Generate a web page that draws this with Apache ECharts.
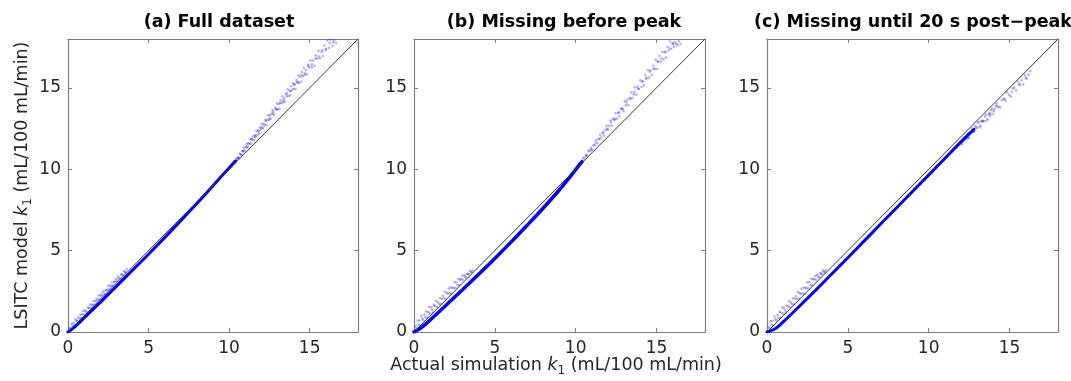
<!DOCTYPE html>
<html>
<head>
<meta charset="utf-8">
<script src="https://cdn.jsdelivr.net/npm/echarts@6/dist/echarts.min.js"></script>
<style>
html,body{margin:0;padding:0;background:#fff;}
#chart{width:1071px;height:381px;}
</style>
</head>
<body>
<div id="chart"></div>
<script>
// ---------- data ----------
const panelTitles = ['(a) Full dataset', '(b) Missing before peak', '(c) Missing until 20 s post\u2212peak'];
const xAxisName = 'Actual simulation {i|k}{s|1} (mL/100 mL/min)';
const yAxisName = 'LSITC model {i|k}{s|1} (mL/100 mL/min)';
const axisMax = 18;
const tickStep = 5;
const identityLine = [[0, 0], [18, 18]];

// dense core of each point cloud
const coreA = [[0,0],[0.5,0.38],[1,0.86],[2,1.82],[3,2.8],[4,3.79],[5,4.78],[6,5.8],[7,6.84],[8,7.9],[9,8.98],[10,10.08],[10.4,10.5]];
const coreB = [[0,0],[0.5,0.3],[1,0.74],[2,1.66],[3,2.6],[4,3.55],[5,4.52],[6,5.52],[7,6.56],[8,7.62],[9,8.74],[9.5,9.34],[10,9.98],[10.4,10.46]];
const coreC = [[0,0],[0.5,0.2],[1,0.62],[2,1.58],[3,2.56],[4,3.56],[5,4.56],[6,5.58],[7,6.6],[8,7.62],[9,8.63],[10,9.64],[11,10.66],[12,11.68],[12.8,12.45]];

// sparse points
const lowA = [
  [0.10,0.25],[0.16,0.21],[0.22,0.50],[0.28,0.38],[0.34,0.56],[0.40,0.42],[0.46,0.78],[0.52,0.70],[0.58,0.66],[0.64,0.89],
  [0.70,0.82],[0.76,1.06],[0.82,0.86],[0.88,1.08],[0.94,1.29],[1.00,1.09],[1.06,1.33],[1.12,1.26],[1.18,1.19],[1.24,1.48],
  [1.30,1.47],[1.36,1.69],[1.42,1.49],[1.48,1.69],[1.54,1.65],[1.60,1.89],[1.66,1.69],[1.72,1.91],[1.78,2.04],[1.84,1.97],
  [1.90,2.24],[1.96,2.02],[2.02,2.25],[2.08,2.24],[2.14,2.45],[2.20,2.30],[2.26,2.54],[2.32,2.34],[2.38,2.58],[2.44,2.59],
  [2.50,2.83],[2.56,2.64],[2.62,2.87],[2.68,2.80],[2.74,3.04],[2.80,2.85],[2.86,3.08],[2.92,3.10],[2.98,3.25],[3.04,3.14],
  [3.10,3.42],[3.16,3.30],[3.22,3.29],[3.28,3.52],[3.34,3.53],[3.40,3.51],[3.46,3.75],[3.52,3.68],[3.58,3.66],[3.64,3.85]
];
const highA = [
  [10.10,10.15],[10.16,10.14],[10.22,10.36],[10.27,10.31],[10.33,10.47],[10.38,10.40],[10.44,10.66],[10.49,10.60],[10.55,10.74],
  [10.61,10.68],[10.66,10.95],[10.72,10.91],[10.77,10.88],[10.83,11.12],[10.88,11.08],[10.94,11.32],[10.99,11.14],[11.05,11.35],
  [11.10,11.55],[11.15,11.33],[11.21,11.60],[11.26,11.55],[11.32,11.85],[11.37,11.59],[11.43,11.83],[11.48,12.00],[11.54,11.78],
  [11.59,12.10],[11.65,12.03],[11.70,12.35],[11.76,12.12],[11.81,12.33],[11.87,12.18],[11.92,12.58],[11.98,12.49],[12.03,12.79],
  [12.09,12.50],[12.14,12.78],[12.20,12.70],[12.25,13.04],[12.31,12.71],[12.36,13.02],[12.42,13.31],[12.47,13.02],[12.53,13.31],
  [12.58,13.09],[12.64,13.40],[12.69,13.64],[12.75,13.41],[12.80,13.32],[12.86,13.78],[12.91,13.67],[12.97,14.03],[13.02,13.67],
  [13.08,14.01],[13.13,13.71],[13.19,14.24],[13.24,14.05],[13.30,14.47],[13.35,14.11],[13.41,14.36],[13.46,14.14],[13.52,14.63],
  [13.57,14.50],[13.63,14.91],[13.68,14.48],[13.74,14.84],[13.79,14.54],[13.85,15.10],[13.90,14.87],[13.96,15.30],[14.01,14.94],
  [14.07,15.22],[14.12,14.93],[14.18,15.48],[14.23,15.35],[14.29,15.76],[14.34,15.30],[14.40,15.67],[14.46,15.37],[14.52,15.98],
  [14.58,15.72],[14.64,16.22],[14.70,15.79],[14.76,16.09],[14.83,15.83],[14.90,16.42],[14.97,16.25],[15.05,16.68],[15.13,16.27],
  [15.21,16.68],[15.30,16.35],[15.38,16.99],[15.47,16.79],[15.55,17.28],[15.64,16.81],[15.73,17.21],[15.82,16.95],[15.91,17.60],
  [16.00,17.33],[16.10,17.89],[16.20,17.45],[16.30,17.95],[16.41,17.58],[16.52,17.91],[16.64,17.75],
  [10.30,10.42],[10.58,10.70],[10.86,11.13],[11.13,11.40],[11.40,11.84],[11.62,12.00],[11.84,12.40],[12.06,12.58],[12.28,12.96],
  [12.50,13.12],[12.72,13.52],[12.94,13.69],[13.16,14.08],[13.38,14.24],[13.60,14.65],[13.82,14.79],[14.04,15.20],[14.26,15.35],
  [14.48,15.78],[14.70,15.90],[14.92,16.34],[15.14,16.44],[15.36,16.82],[15.58,16.93],[15.80,17.30],[16.02,17.40],[16.24,17.75],
  [16.46,17.80]
];
const lowB = [
  [0.10,0.35],[0.16,0.24],[0.22,0.70],[0.28,0.45],[0.34,0.71],[0.40,0.43],[0.46,1.00],[0.52,0.83],[0.58,0.72],[0.64,1.07],
  [0.70,0.90],[0.76,1.27],[0.82,0.89],[0.88,1.22],[0.94,1.54],[1.00,1.15],[1.06,1.52],[1.12,1.36],[1.18,1.20],[1.24,1.65],
  [1.30,1.59],[1.36,1.92],[1.42,1.54],[1.48,1.84],[1.54,1.73],[1.60,2.09],[1.66,1.71],[1.72,2.04],[1.78,2.22],[1.84,2.06],
  [1.90,2.48],[1.96,2.06],[2.02,2.41],[2.08,2.35],[2.14,2.67],[2.20,2.37],[2.26,2.74],[2.32,2.35],[2.38,2.72],[2.44,2.70],
  [2.50,3.06],[2.56,2.70],[2.62,3.05],[2.68,2.88],[2.74,3.25],[2.80,2.89],[2.86,3.23],[2.92,3.23],[2.98,3.44],[3.04,3.21],
  [3.10,3.50],[3.16,3.40],[3.22,3.34],[3.28,3.58],[3.34,3.58],[3.40,3.54],[3.46,3.76],[3.52,3.68],[3.58,3.66],[3.64,3.79]
];
const highB = [
  [10.15,10.15],[10.23,10.37],[10.31,10.31],[10.39,10.53],[10.47,10.71],[10.55,10.65],[10.63,10.82],[10.71,10.81],[10.79,11.14],
  [10.87,11.10],[10.95,11.31],[11.03,11.20],[11.11,11.48],[11.19,11.47],[11.27,11.79],[11.35,11.58],[11.43,11.87],[11.51,12.12],
  [11.59,11.95],[11.67,12.24],[11.75,12.07],[11.83,12.40],[11.91,12.66],[11.99,12.43],[12.07,12.66],[12.15,12.99],[12.23,12.67],
  [12.31,13.09],[12.39,13.02],[12.47,13.43],[12.55,13.11],[12.63,13.46],[12.71,13.25],[12.79,13.74],[12.87,13.71],[12.95,13.58],
  [13.03,14.18],[13.11,13.92],[13.19,14.28],[13.27,13.94],[13.35,14.37],[13.43,14.71],[13.51,14.38],[13.59,14.60],[13.67,15.03],
  [13.75,14.58],[13.83,15.06],[13.91,14.93],[13.99,15.46],[14.07,15.05],[14.15,15.41],[14.23,15.15],[14.31,15.79],[14.39,15.61],
  [14.47,16.10],[14.55,15.63],[14.63,16.07],[14.71,15.79],[14.79,16.36],[14.87,16.16],[14.95,16.73],[15.03,16.17],[15.11,16.62],
  [15.19,16.96],[15.27,16.61],[15.35,17.20],[15.43,16.74],[15.51,17.19],[15.59,16.86],[15.67,17.52],[15.75,17.28],[15.83,17.85],
  [15.91,17.40],[15.99,17.73],[16.07,17.53],[16.15,17.78],[16.23,17.70],[16.31,17.62],[16.39,17.86],[16.48,17.70],
  [10.35,10.43],[10.65,10.88],[10.95,11.20],[11.23,11.64],[11.47,11.86],[11.71,12.26],[11.95,12.48],[12.19,12.88],[12.43,13.09],
  [12.67,13.50],[12.91,13.71],[13.15,14.12],[13.39,14.32],[13.63,14.75],[13.87,14.94],[14.11,15.37],[14.35,15.56],[14.59,15.99],
  [14.83,16.18],[15.07,16.60],[15.31,16.80],[15.55,17.22],[15.79,17.42],[16.03,17.70]
];
const lowC = [
  [0.10,0.32],[0.16,0.22],[0.22,0.66],[0.28,0.44],[0.34,0.68],[0.40,0.41],[0.46,0.95],[0.52,0.80],[0.58,0.70],[0.64,1.04],
  [0.70,0.88],[0.76,1.24],[0.82,0.87],[0.88,1.20],[0.94,1.50],[1.00,1.13],[1.06,1.49],[1.12,1.34],[1.18,1.19],[1.24,1.62],
  [1.30,1.57],[1.36,1.90],[1.42,1.52],[1.48,1.82],[1.54,1.71],[1.60,2.07],[1.66,1.70],[1.72,2.02],[1.78,2.20],[1.84,2.04],
  [1.90,2.46],[1.96,2.05],[2.02,2.40],[2.08,2.33],[2.14,2.66],[2.20,2.36],[2.26,2.73],[2.32,2.34],[2.38,2.71],[2.44,2.69],
  [2.50,3.05],[2.56,2.69],[2.62,3.06],[2.68,2.87],[2.74,3.27],[2.80,2.88],[2.86,3.25],[2.92,3.24],[2.98,3.46],[3.04,3.22],
  [3.10,3.52],[3.16,3.41],[3.22,3.35],[3.28,3.60],[3.34,3.59],[3.40,3.55],[3.46,3.78],[3.52,3.70],[3.58,3.67],[3.64,3.80]
];
const highC = [
  [12.00,11.67],[12.05,11.52],[12.11,11.65],[12.16,11.88],[12.22,11.96],[12.27,11.83],[12.33,11.93],[12.38,12.16],[12.44,11.92],
  [12.49,11.93],[12.55,12.26],[12.60,12.25],[12.66,12.29],[12.71,12.52],[12.77,12.28],[12.82,12.31],[12.88,12.65],[12.93,12.54],
  [12.99,12.56],[13.04,12.87],[13.10,12.90],[13.15,12.57],[13.21,12.66],[13.26,12.97],[13.32,12.98],[13.37,12.95],[13.43,12.96],
  [13.48,13.24],[13.54,13.36],[13.59,12.99],[13.65,13.08],[13.70,13.34],[13.76,13.45],[13.81,13.28],[13.87,13.62],[13.92,13.72],
  [13.98,13.39],[14.03,13.57],[14.09,13.71],[14.14,13.88],[14.20,14.04],[14.31,13.81],[14.42,13.81],[14.53,14.25],[14.64,14.32],
  [14.75,14.21],[14.86,14.72],[14.97,14.56],[15.08,14.46],[15.19,14.97],[15.30,15.00],[15.41,14.83],[15.52,15.39],[15.63,15.18],
  [15.74,15.47],[15.85,15.22],[15.96,15.77],[16.07,15.56],[16.18,15.82],[16.29,16.02],
  [12.30,11.90],[12.80,12.42],[13.30,12.93],[13.80,13.41],[14.25,13.88],[14.70,14.33],[15.15,14.76],[15.60,15.24],[16.00,15.60]
];

const cores = [coreA, coreB, coreC];
const sparse = [lowA.concat(highA), lowB.concat(highB), lowC.concat(highC)];

// ---------- layout ----------
const grids = [
  {left: 68, top: 39, width: 290, height: 293},
  {left: 414, top: 39, width: 291, height: 293},
  {left: 767, top: 39, width: 291, height: 293}
];
const titleCenters = [214, 559, 908];
const coreWidths = [3, 3.5, 3];

const FONT = 'DejaVu Sans';
const axisGrey = '#7f7f7f';
const textCol = '#262626';
const rich = {
  i: {fontStyle: 'italic', fontFamily: FONT, fontSize: 17.5, color: textCol},
  s: {fontFamily: FONT, fontSize: 12, color: textCol, padding: [12, 0, 0, 0]}
};

const xAxes = [], yAxes = [], series = [], titles = [];
grids.forEach((g, k) => {
  titles.push({
    text: panelTitles[k], left: titleCenters[k], top: 8, textAlign: 'center',
    textStyle: {fontFamily: FONT, fontWeight: 'bold', fontSize: 17.5, color: '#000'}
  });
  const common = {
    type: 'value', min: 0, max: axisMax, interval: tickStep, gridIndex: k,
    axisLine: {show: true, onZero: false, lineStyle: {color: axisGrey, width: 1.2}},
    axisTick: {show: true, inside: true, length: 4, lineStyle: {color: axisGrey}},
    splitLine: {show: false},
    axisLabel: {show: true, fontFamily: FONT, fontSize: 17, color: textCol, margin: 8,
      showMaxLabel: false, hideOverlap: false}
  };
  xAxes.push(Object.assign({}, common, {position: 'bottom'}));
  xAxes.push(Object.assign({}, common, {position: 'top', axisLabel: {show: false}}));
  const yl = Object.assign({}, common, {position: 'left', axisLabel: Object.assign({}, common.axisLabel, {margin: 7})});
  if (k === 0) {
    yl.name = yAxisName; yl.nameLocation = 'middle'; yl.nameGap = 34; yl.nameMoveOverlap = false;
    yl.nameTextStyle = {fontFamily: FONT, fontSize: 17.5, color: textCol, rich: rich};
  }
  yAxes.push(yl);
  yAxes.push(Object.assign({}, common, {position: 'right', axisLabel: {show: false}}));

  series.push({
    type: 'scatter', xAxisIndex: 2 * k, yAxisIndex: 2 * k, data: sparse[k],
    symbol: 'circle', symbolSize: 2.6, silent: true,
    itemStyle: {color: 'rgba(0,0,255,0.38)'}, z: 2
  });
  series.push({
    type: 'line', xAxisIndex: 2 * k, yAxisIndex: 2 * k, data: cores[k],
    showSymbol: false, smooth: 0.3, silent: true,
    lineStyle: {color: '#0000ff', width: coreWidths[k], cap: 'round'}, z: 3
  });
  series.push({
    type: 'line', xAxisIndex: 2 * k, yAxisIndex: 2 * k, data: identityLine,
    showSymbol: false, silent: true,
    lineStyle: {color: '#3a3a3a', width: 1}, z: 4
  });
});
// shared x-axis title under the middle panel
titles.push({
  text: xAxisName, left: 551, top: 348, textAlign: 'center',
  textStyle: {fontFamily: FONT, fontSize: 17.5, fontWeight: 'normal', color: textCol, rich: rich}
});

const chart = echarts.init(document.getElementById('chart'), null, {renderer: 'canvas'});
chart.setOption({
  animation: false,
  backgroundColor: '#ffffff',
  title: titles,
  grid: grids,
  xAxis: xAxes,
  yAxis: yAxes,
  series: series
});
</script>
</body>
</html>
